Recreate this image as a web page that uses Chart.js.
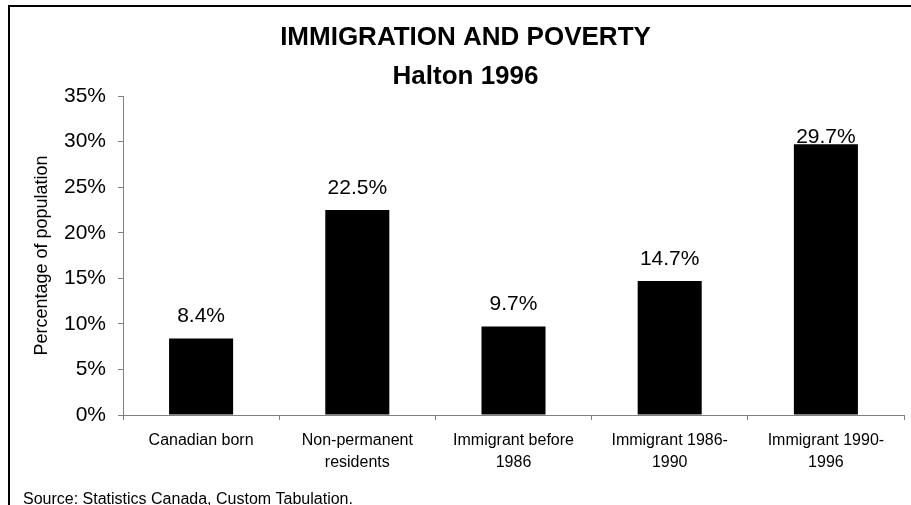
<!DOCTYPE html>
<html>
<head>
    <title>Immigration and Poverty - Halton 1996</title>
    <script src="https://cdn.jsdelivr.net/npm/chart.js"></script>
    <style>
        body { margin: 0; background: #fff; }
    </style>
</head>
<body>
    <canvas id="myChart" width="911" height="505"></canvas>
    <script>
        const categories = [
            'Canadian born',
            ['Non-permanent', 'residents'],
            ['Immigrant before', '1986'],
            ['Immigrant 1986-', '1990'],
            ['Immigrant 1990-', '1996']
        ];
        const povertyRates = [8.4, 22.5, 9.7, 14.7, 29.7];
        const yTicks = [0, 5, 10, 15, 20, 25, 30, 35];
        const titleLines = ['IMMIGRATION AND POVERTY', 'Halton 1996'];
        const sourceNote = 'Source: Statistics Canada, Custom Tabulation.';

        const FONT = "'Liberation Sans', Arial, sans-serif";

        // frame (top + left only, rest is cropped) and source note
        const framePlugin = {
            id: 'frame',
            afterDraw(chart) {
                const c = chart.ctx;
                c.save();
                c.strokeStyle = '#000';
                c.lineWidth = 2;
                c.strokeRect(9, 6, 960, 600);
                c.fillStyle = '#000';
                c.font = '16px ' + FONT;
                c.textAlign = 'left';
                c.textBaseline = 'alphabetic';
                c.fillText(sourceNote, 23, 504);
                c.restore();
            }
        };

        // value labels above the bars
        const valueLabels = {
            id: 'valueLabels',
            afterDatasetsDraw(chart) {
                const c = chart.ctx;
                const meta = chart.getDatasetMeta(0);
                c.save();
                c.fillStyle = '#000';
                c.font = '21px ' + FONT;
                c.textAlign = 'center';
                c.textBaseline = 'middle';
                meta.data.forEach((bar, i) => {
                    const y = Math.max(bar.y - 22, chart.chartArea.top + 41);
                    c.fillText(povertyRates[i].toFixed(1) + '%', bar.x, y);
                });
                c.restore();
            }
        };

        const ctx = document.getElementById('myChart').getContext('2d');
        const myChart = new Chart(ctx, {
            type: 'bar',
            data: {
                labels: categories,
                datasets: [{
                    label: 'Percentage of population',
                    data: povertyRates,
                    backgroundColor: '#000',
                    borderWidth: 0,
                    categoryPercentage: 1,
                    barPercentage: 0.41
                }]
            },
            options: {
                responsive: false,
                animation: false,
                layout: {
                    padding: { left: 27, right: 7, top: 0, bottom: 0 }
                },
                plugins: {
                    legend: { display: false },
                    tooltip: { enabled: false },
                    title: {
                        display: true,
                        text: titleLines,
                        color: '#000',
                        font: { family: FONT, size: 26, weight: 'bold', lineHeight: 1.5 },
                        padding: { top: 18, bottom: 0 }
                    }
                },
                scales: {
                    x: {
                        grid: {
                            drawOnChartArea: false,
                            tickLength: 5,
                            color: '#808080'
                        },
                        border: { color: '#808080' },
                        ticks: {
                            color: '#000',
                            padding: 10,
                            maxRotation: 0,
                            autoSkip: false,
                            font: { family: FONT, size: 16, lineHeight: 1.35 }
                        },
                        afterFit(scale) { scale.height = 90; }
                    },
                    y: {
                        min: 0,
                        max: 35,
                        afterBuildTicks(scale) {
                            scale.ticks = yTicks.map(v => ({ value: v }));
                        },
                        grid: {
                            drawOnChartArea: false,
                            tickLength: 5,
                            color: '#808080'
                        },
                        border: { color: '#808080' },
                        ticks: {
                            color: '#000',
                            padding: 12,
                            font: { family: FONT, size: 21 },
                            callback: v => v + '%'
                        },
                        title: {
                            display: true,
                            text: 'Percentage of population',
                            color: '#000',
                            font: { family: FONT, size: 18 },
                            padding: { top: 4, bottom: 0 }
                        },
                        afterFit(scale) { scale.width = 96; }
                    }
                }
            },
            plugins: [framePlugin, valueLabels]
        });
    </script>
</body>
</html>
